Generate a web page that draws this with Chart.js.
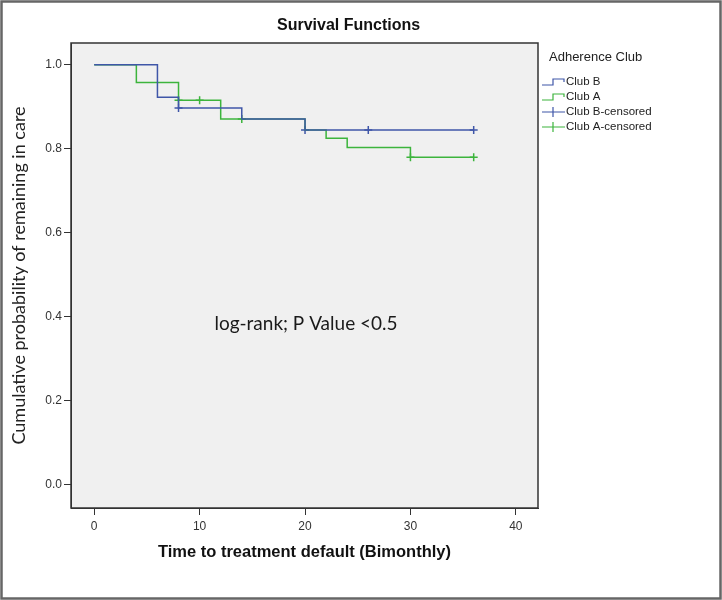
<!DOCTYPE html>
<html>
<head>
<meta charset="utf-8">
<script src="https://cdn.jsdelivr.net/npm/chart.js@4"></script>
<style>
    html, body { margin: 0; padding: 0; background: #fff; }
    #wrap { width: 722px; height: 600px; position: relative; }
</style>
</head>
<body>
<div id="wrap"><canvas id="kmChart"></canvas></div>
<script>
// Kaplan-Meier steps (time, survival after event)
const clubBTimes = [0, 6, 8, 14, 20, 36];
const clubBSurv = [1.0, 0.923, 0.897, 0.871, 0.845, 0.845];
const clubATimes = [0, 4, 8, 12, 20, 22, 24, 30, 36];
const clubASurv = [1.0, 0.958, 0.916, 0.871, 0.845, 0.825, 0.803, 0.780, 0.780];

// censored observations
const clubBCensTimes = [8, 20, 26, 36];
const clubBCensSurv = [0.897, 0.845, 0.845, 0.845];
const clubACensTimes = [8, 10, 14, 30, 36];
const clubACensSurv = [0.916, 0.916, 0.871, 0.780, 0.780];

const xTicks = [0, 10, 20, 30, 40];
const yTicks = [0.0, 0.2, 0.4, 0.6, 0.8, 1.0];

const blue = '#3f56a8';
const green = '#3cb43c';

function toPoints(xs, ys) {
    return xs.map((x, i) => ({ x: x, y: ys[i] }));
}

const frame = {
    id: 'frame',
    beforeDraw(chart) {
        const c = chart.ctx, a = chart.chartArea;
        c.save();
        c.fillStyle = '#f0f0f0';
        c.fillRect(a.left, a.top, a.right - a.left, a.bottom - a.top);
        c.restore();
    },
    afterDraw(chart) {
        const c = chart.ctx, a = chart.chartArea;
        c.save();
        c.strokeStyle = '#333';
        c.lineWidth = 1.5;
        c.strokeRect(a.left, a.top, a.right - a.left, a.bottom - a.top);

        // outer border of the figure
        c.strokeStyle = '#666';
        c.lineWidth = 2.5;
        c.strokeRect(1.5, 1.5, chart.width - 3, chart.height - 3);

        // title
        c.fillStyle = '#111';
        c.font = 'bold 16px Arial, "Liberation Sans", sans-serif';
        c.textAlign = 'left';
        c.textBaseline = 'middle';
        c.fillText('Survival Functions', 277, 26);

        // note
        c.font = '19px Lato, sans-serif';
        c.fillStyle = '#1a1a1a';
        c.textAlign = 'center';
        c.fillText('log-rank; P Value <0.5', 306, 324);

        // legend
        c.textAlign = 'left';
        c.font = '13px Arial, "Liberation Sans", sans-serif';
        c.fillStyle = '#222';
        c.fillText('Adherence Club', 549, 57);
        c.font = '11.5px Arial, "Liberation Sans", sans-serif';
        const rows = [
            { label: 'Club B', color: blue, step: true, y: 82 },
            { label: 'Club A', color: green, step: true, y: 97 },
            { label: 'Club B-censored', color: blue, step: false, y: 112 },
            { label: 'Club A-censored', color: green, step: false, y: 127 }
        ];
        rows.forEach(r => {
            c.strokeStyle = r.color;
            c.lineWidth = 1.2;
            c.beginPath();
            if (r.step) {
                c.moveTo(542, r.y + 3);
                c.lineTo(553, r.y + 3);
                c.lineTo(553, r.y - 3);
                c.lineTo(564, r.y - 3);
                c.lineTo(564, r.y);
            } else {
                c.moveTo(542, r.y);
                c.lineTo(565, r.y);
                c.moveTo(553, r.y - 5);
                c.lineTo(553, r.y + 5);
            }
            c.stroke();
            c.fillStyle = '#222';
            c.fillText(r.label, 566, r.y);
        });
        c.restore();
    }
};

const ctx = document.getElementById('kmChart').getContext('2d');

new Chart(ctx, {
    type: 'line',
    data: {
        datasets: [{
            label: 'Club B',
            data: toPoints(clubBTimes, clubBSurv),
            borderColor: blue,
            borderWidth: 1.5,
            stepped: true,
            pointRadius: 0,
            fill: false
        }, {
            label: 'Club A',
            data: toPoints(clubATimes, clubASurv),
            borderColor: green,
            borderWidth: 1.5,
            stepped: true,
            pointRadius: 0,
            fill: false
        }, {
            label: 'Club B-censored',
            data: toPoints(clubBCensTimes, clubBCensSurv),
            showLine: false,
            pointStyle: 'cross',
            pointRadius: 4,
            borderColor: blue,
            pointBorderWidth: 1.5
        }, {
            label: 'Club A-censored',
            data: toPoints(clubACensTimes, clubACensSurv),
            showLine: false,
            pointStyle: 'cross',
            pointRadius: 4,
            borderColor: green,
            pointBorderWidth: 1.5
        }]
    },
    options: {
        responsive: true,
        maintainAspectRatio: false,
        animation: false,
        layout: {
            padding: { top: 43, right: 184, bottom: 38, left: 0 }
        },
        scales: {
            x: {
                type: 'linear',
                min: -2.2,
                max: 42.1,
                afterBuildTicks: s => { s.ticks = xTicks.map(v => ({ value: v })); },
                afterFit: s => { s.height = 54; },
                grid: { display: true, drawOnChartArea: false, tickLength: 7, color: '#333', tickColor: '#333' },
                border: { display: true, color: '#333' },
                ticks: {
                    color: '#333',
                    padding: 4,
                    font: { family: 'Arial, "Liberation Sans", sans-serif', size: 12 }
                },
                title: {
                    display: true,
                    text: 'Time to treatment default (Bimonthly)',
                    color: '#111',
                    padding: { top: 14, bottom: 0 },
                    font: { family: 'Arial, "Liberation Sans", sans-serif', size: 16.5, weight: 'bold' }
                }
            },
            y: {
                min: -0.055,
                max: 1.052,
                afterBuildTicks: s => { s.ticks = yTicks.map(v => ({ value: v })); },
                afterFit: s => { s.width = 71; },
                grid: { display: true, drawOnChartArea: false, tickLength: 7, color: '#333', tickColor: '#333' },
                border: { display: true, color: '#333' },
                ticks: {
                    color: '#333',
                    padding: 2,
                    callback: v => v.toFixed(1),
                    font: { family: 'Arial, "Liberation Sans", sans-serif', size: 12 }
                },
                title: {
                    display: true,
                    text: 'Cumulative probability of remaining in care',
                    color: '#222',
                    padding: { top: 8, bottom: 0 },
                    font: { family: 'Lato, sans-serif', size: 18 }
                }
            }
        },
        plugins: {
            legend: { display: false },
            tooltip: { enabled: false }
        }
    },
    plugins: [frame]
});
</script>
</body>
</html>
